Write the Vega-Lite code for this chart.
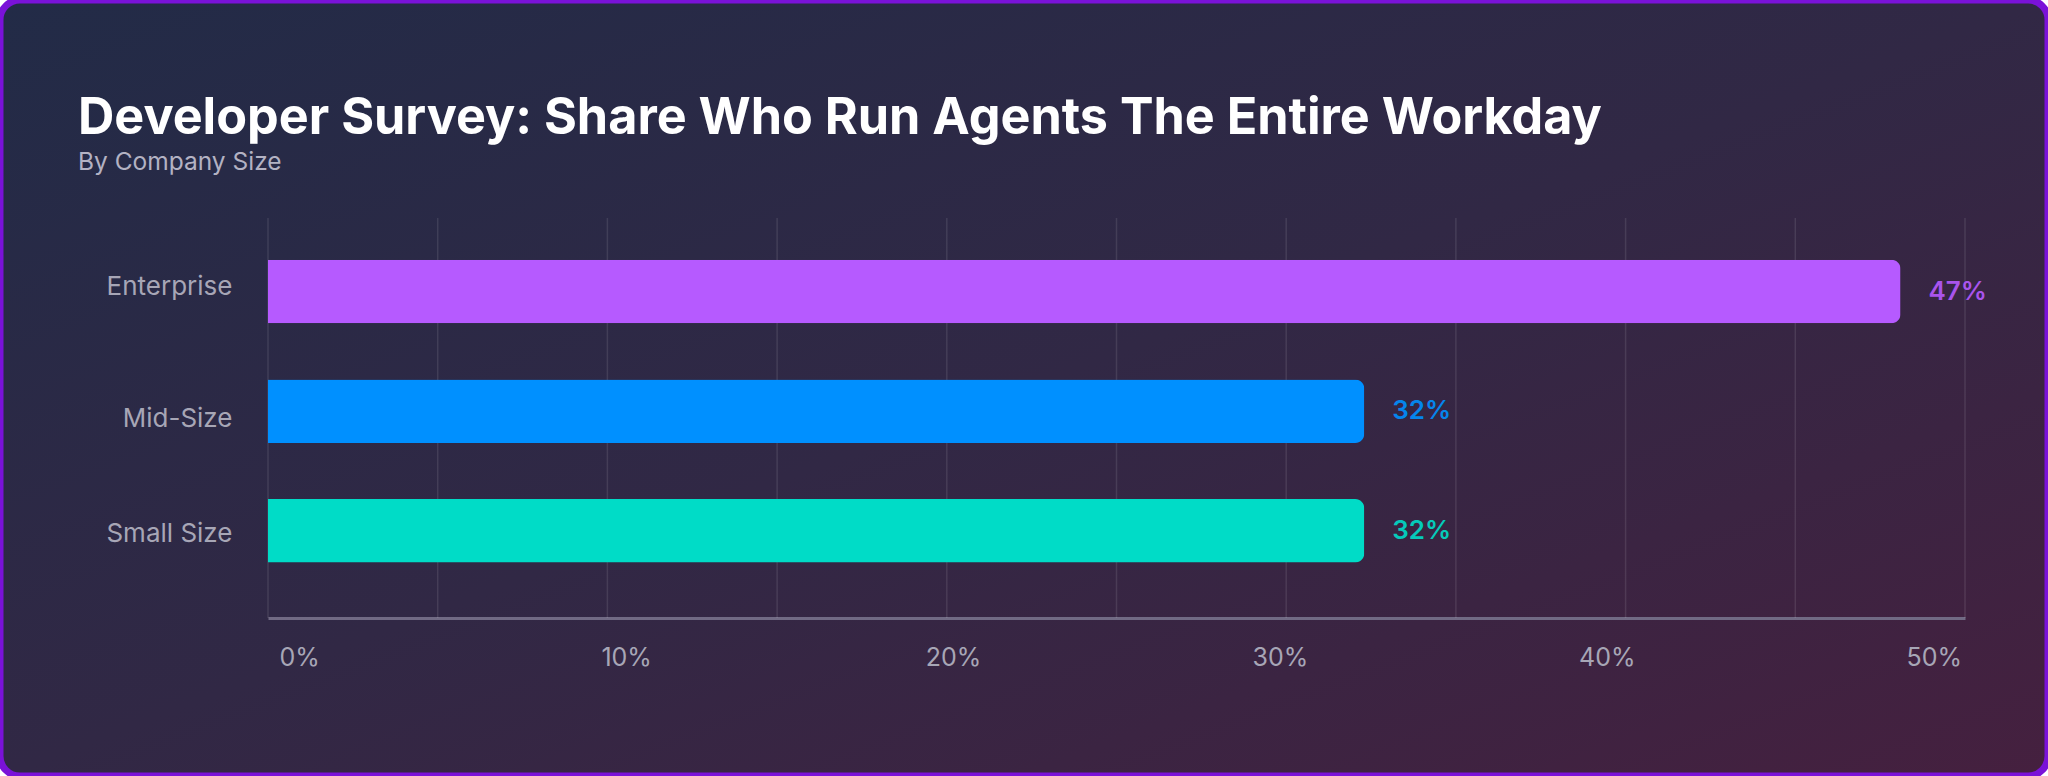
{
  "$schema": "https://vega.github.io/schema/vega-lite/v6.json",
  "description": "Developer survey: share who run agents the entire workday, by company size.",
  "width": 2048,
  "height": 776,
  "autosize": {"type": "none"},
  "padding": 0,
  "background": "#ffffff",
  "view": {
    "fill": {
      "gradient": "linear",
      "x1": 0, "y1": 0, "x2": 1, "y2": 1,
      "stops": [
        {"offset": 0, "color": "#222b47"},
        {"offset": 0.5, "color": "#312845"},
        {"offset": 1, "color": "#45203f"}
      ]
    },
    "stroke": "#7a12d8",
    "strokeWidth": 7,
    "cornerRadius": 20
  },
  "title": {
    "text": "Developer Survey: Share Who Run Agents The Entire Workday",
    "subtitle": "By Company Size",
    "anchor": "start",
    "frame": "group",
    "dx": 78,
    "offset": -174,
    "font": "Inter",
    "fontSize": 50.3,
    "fontWeight": 700,
    "color": "#ffffff",
    "subtitleFont": "Inter",
    "subtitleFontSize": 24.5,
    "subtitleColor": "#b3b2c3",
    "subtitlePadding": 6
  },
  "data": {
    "values": [
      {"size": "Enterprise", "share": 48.1, "label": "47%"},
      {"size": "Mid-Size", "share": 32.3, "label": "32%"},
      {"size": "Small Size", "share": 32.3, "label": "32%"}
    ]
  },
  "resolve": {"scale": {"y": "independent"}},
  "layer": [
    {
      "data": {
        "values": [
          {"tick": 0}, {"tick": 5}, {"tick": 10}, {"tick": 15}, {"tick": 20}, {"tick": 25},
          {"tick": 30}, {"tick": 35}, {"tick": 40}, {"tick": 45}, {"tick": 50}
        ]
      },
      "mark": {"type": "rule", "color": "#ffffff", "opacity": 0.1, "strokeWidth": 1.5},
      "encoding": {
        "x": {
          "field": "tick",
          "type": "quantitative",
          "title": null,
          "scale": {"domain": [0, 50], "range": [268, 1965], "nice": false},
          "axis": {
            "orient": "bottom",
            "offset": -158,
            "values": [0, 10, 20, 30, 40, 50],
            "labelExpr": "datum.value + '%'",
            "grid": false,
            "ticks": false,
            "domain": true,
            "domainColor": "#716a84",
            "domainWidth": 3,
            "labelBaseline": "alphabetic",
            "labelPadding": 47,
            "labelOverlap": false,
            "labelFlush": false,
            "labelBound": false,
            "labelFont": "Inter",
            "labelFontSize": 25,
            "labelColor": "#a7a6b6",
            "labelOffset": {"expr": "(25 - datum.value) * 1.25"}
          }
        },
        "y": {
          "datum": 0,
          "type": "quantitative",
          "scale": {"domain": [0, 1], "range": [218, 618]},
          "axis": null
        },
        "y2": {"datum": 1}
      }
    },
    {
      "encoding": {
        "y": {
          "field": "size",
          "type": "nominal",
          "sort": null,
          "title": null,
          "scale": {
            "domain": ["Enterprise", "Mid-Size", "Small Size"],
            "range": [218, 618],
            "paddingInner": 0.469,
            "paddingOuter": 0.407,
            "align": 0.43
          },
          "axis": {
            "orient": "left",
            "offset": -232,
            "domain": false,
            "ticks": false,
            "grid": false,
            "labelPadding": 0,
            "labelFont": "Inter",
            "labelFontSize": 26,
            "labelColor": "#a7a6b6",
            "labelOffset": {"expr": "datum.value == 'Enterprise' ? -5 : datum.value == 'Mid-Size' ? 8 : 3"}
          }
        },
        "color": {
          "field": "size",
          "type": "nominal",
          "legend": null,
          "scale": {
            "domain": ["Enterprise", "Mid-Size", "Small Size"],
            "range": ["#b65aff", "#0090ff", "#00dcc7"]
          }
        }
      },
      "layer": [
        {
          "mark": {"type": "bar", "cornerRadiusEnd": 9},
          "encoding": {
            "x": {"field": "share", "type": "quantitative", "title": null}
          }
        },
        {
          "mark": {
            "type": "text",
            "align": "left",
            "baseline": "middle",
            "dx": 28,
            "font": "Inter",
            "fontSize": 26,
            "fontWeight": 600,
            "opacity": 0.9
          },
          "encoding": {
            "x": {"field": "share", "type": "quantitative", "title": null},
            "text": {"field": "label", "type": "nominal"}
          }
        }
      ]
    }
  ]
}
